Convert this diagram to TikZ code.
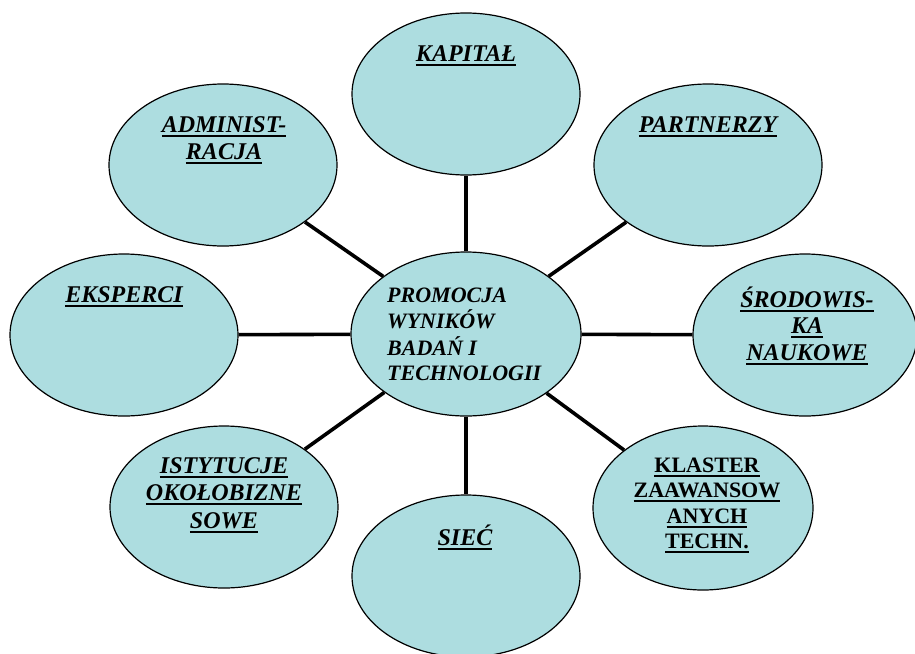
\documentclass[tikz,border=0pt]{standalone}
\usepackage{fontspec}
\setmainfont{Liberation Serif}
\usetikzlibrary{shapes.geometric}
\definecolor{bub}{RGB}{173,221,224}
\newcommand\ulx[1]{\setbox0=\hbox{#1}\rlap{\vrule height -2.5pt depth 4.6pt width \wd0}\box0}
\begin{document}
\begin{tikzpicture}[x=1pt,y=-1pt,
  bub/.style={ellipse, draw=black, line width=1.2pt, fill=bub, minimum width=228pt, minimum height=162pt, inner sep=0pt},
  conn/.style={line width=3.6pt},
  lab/.style={anchor=base, inner sep=0pt, font=\fontsize{24}{27}\selectfont\bfseries\itshape},
  labc/.style={anchor=base west, inner sep=0pt, font=\fontsize{22}{25.5}\selectfont\bfseries\itshape},
  labk/.style={anchor=base, inner sep=0pt, font=\fontsize{22}{25.5}\selectfont\bfseries}]
\useasboundingbox[fill=white] (0,0) rectangle (915,653);
% connectors
\node[bub, minimum width=230pt, minimum height=164pt] (c) at (466,334) {};
\node[bub] (kap) at (466,94) {};
\node[bub] (adm) at (223,165) {};
\node[bub] (par) at (708,165) {};
\node[bub] (eks) at (124,335) {};
\node[bub, minimum width=224pt] (sro) at (805,335) {};
\node[bub, minimum width=220pt, minimum height=164pt] (kla) at (703,508) {};
\node[bub] (ist) at (224,507) {};
\node[bub] (sie) at (466,576) {};
\foreach \n in {kap,adm,par,eks,sro,kla,ist,sie}{\draw[conn] (c) -- (\n);}
% labels
\node[lab] (tkap) at (466,61) {\ulx{KAPITAŁ}};
\node[lab] (tadm) at (224,132) {\begin{tabular}[t]{@{}c@{}}\ulx{ADMINIST-}\\\ulx{RACJA}\end{tabular}};
\node[lab] (tpar) at (708,132) {\ulx{PARTNERZY}};
\node[lab] (teks) at (124,302) {\ulx{EKSPERCI}};
\node[lab] (tsro) at (807,307) {\fontsize{24}{26.5}\selectfont\begin{tabular}[t]{@{}c@{}}\ulx{ŚRODOWIS-}\\\ulx{KA}\\\ulx{NAUKOWE}\end{tabular}};
\node[labk] (tkla) at (707,472) {\begin{tabular}[t]{@{}c@{}}\ulx{KLASTER}\\\ulx{ZAAWANSOW}\\\ulx{ANYCH}\\\ulx{TECHN.}\end{tabular}};
\node[lab] (tist) at (224,473) {\fontsize{24}{27.5}\selectfont\begin{tabular}[t]{@{}c@{}}\ulx{ISTYTUCJE}\\\ulx{OKOŁOBIZNE}\\\ulx{SOWE}\end{tabular}};
\node[lab] (tsie) at (465,545) {\ulx{SIEĆ}};
\node[labc] (tc) at (387,302) {\begin{tabular}[t]{@{}l@{}}PROMOCJA\\WYNIKÓW\\BADAŃ I\\TECHNOLOGII\end{tabular}};
\end{tikzpicture}
\end{document}
